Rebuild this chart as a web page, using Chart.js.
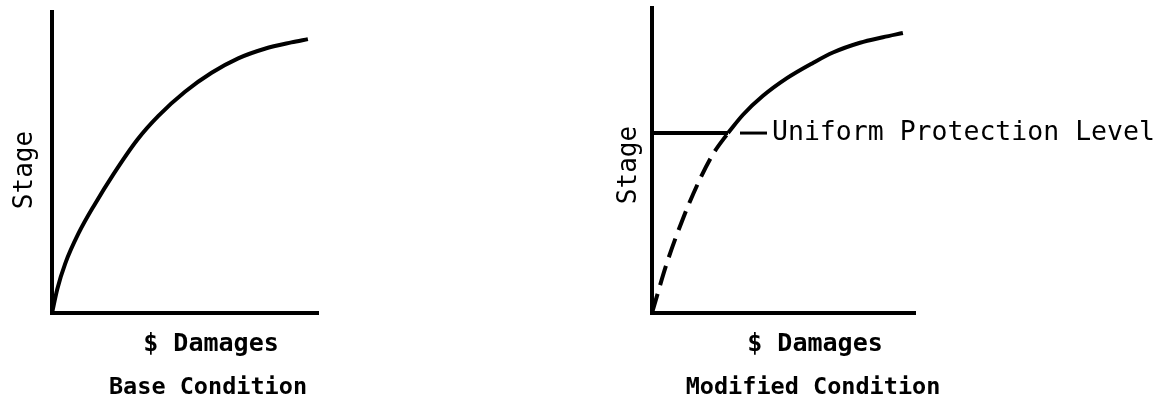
<!DOCTYPE html>
<html lang="en">

<head>
  <meta charset="UTF-8">
  <title>Stage vs Damages</title>
  <style>
    body { margin: 0; background: #fff; }
    .panel { position: absolute; top: 0; }
  </style>
</head>

<body>
  <div class="panel" style="left:0"><canvas id="baseChart" width="340" height="404"></canvas></div>
  <div class="panel" style="left:600px"><canvas id="modChart" width="558" height="404"></canvas></div>
</body>

<script src="https://cdn.jsdelivr.net/npm/chart.js"></script>
<script>
  // base condition stage-damage curve
  const baseDamages = [0, 2, 5, 10, 16, 23, 32, 40, 50, 60, 70, 80, 90, 96.2]
  const baseStage = [0, 8, 16.5, 26.5, 36, 46, 57.5, 65.5, 73.5, 79.8, 84.6, 87.8, 89.9, 91]

  // modified condition: below protection level (dashed), above it (solid)
  const modLowDamages = [0, 5.7, 11.8, 18.3, 23.5, 28.9]
  const modLowStage = [0, 16.5, 31, 44, 52.5, 59]
  const modHighDamages = [28.9, 34.6, 42.2, 51.3, 61.2, 68.8, 79.1, 87.8, 95.4]
  const modHighStage = [59, 65, 71.2, 77, 82, 85.4, 88.6, 90.4, 91.8]
  const protectionLevel = 59

  const toPoints = (xs, ys) => xs.map((x, i) => ({ x: x, y: ys[i] }))

  const mono = '"DejaVu Sans Mono", "Liberation Mono", monospace'

  // draws axis labels, captions and the level callout as canvas text
  const textPlugin = {
    id: 'texts',
    afterDraw(chart, args, opts) {
      const ctx = chart.ctx
      ctx.save()
      ctx.fillStyle = '#000'
      ctx.textBaseline = 'middle'
      ctx.textAlign = 'center'
      ctx.font = '26px ' + mono
      ctx.save()
      ctx.translate(opts.stageX, opts.stageY)
      ctx.rotate(-Math.PI / 2)
      ctx.fillText('Stage', 0, 0)
      ctx.restore()
      ctx.font = 'bold 25px ' + mono
      ctx.fillText('$ Damages', opts.xTitleX, 344)
      ctx.font = 'bold 23.5px ' + mono
      ctx.fillText(opts.caption, opts.captionX, 388)
      if (opts.level) {
        const xs = chart.scales.x, ys = chart.scales.y
        const px = xs.getPixelForValue(modLowDamages[modLowDamages.length - 1])
        const py = ys.getPixelForValue(protectionLevel)
        ctx.strokeStyle = '#000'
        ctx.lineWidth = 3
        ctx.beginPath()
        ctx.moveTo(px + 12, py)
        ctx.lineTo(px + 39, py)
        ctx.stroke()
        ctx.font = '26.5px ' + mono
        ctx.textAlign = 'left'
        ctx.fillText('Uniform Protection Level', px + 44, py)
      }
      ctx.restore()
    }
  }

  function lineSet(points, dash) {
    return {
      data: points,
      showLine: true,
      borderColor: '#000',
      borderWidth: 4,
      borderDash: dash || [],
      pointRadius: 0,
      cubicInterpolationMode: 'monotone',
      fill: false
    }
  }

  function axes() {
    return {
      x: {
        type: 'linear', min: 0, max: 100,
        grid: { display: false },
        ticks: { display: false },
        border: { color: '#000', width: 4 },
        afterFit: s => { s.height = 0 }
      },
      y: {
        type: 'linear', min: 0, max: 100,
        grid: { display: false },
        ticks: { display: false },
        border: { color: '#000', width: 4 },
        afterFit: s => { s.width = 0 }
      }
    }
  }

  new Chart(document.getElementById('baseChart'), {
    type: 'scatter',
    data: { datasets: [lineSet(toPoints(baseDamages, baseStage))] },
    options: {
      responsive: false,
      animation: false,
      devicePixelRatio: 1,
      layout: { padding: { left: 52, top: 12, right: 22, bottom: 91 } },
      scales: axes(),
      plugins: {
        legend: { display: false },
        tooltip: { enabled: false },
        texts: { stageX: 25, stageY: 170, xTitleX: 211, caption: 'Base Condition', captionX: 208 }
      }
    },
    plugins: [textPlugin]
  })

  new Chart(document.getElementById('modChart'), {
    type: 'scatter',
    data: {
      datasets: [
        lineSet(toPoints([0, modLowDamages[modLowDamages.length - 1]], [protectionLevel, protectionLevel])),
        lineSet(toPoints(modLowDamages, modLowStage), [20, 9]),
        lineSet(toPoints(modHighDamages, modHighStage))
      ]
    },
    options: {
      responsive: false,
      animation: false,
      devicePixelRatio: 1,
      layout: { padding: { left: 52, top: 8, right: 243, bottom: 91 } },
      scales: axes(),
      plugins: {
        legend: { display: false },
        tooltip: { enabled: false },
        texts: { stageX: 29, stageY: 165, xTitleX: 215, caption: 'Modified Condition', captionX: 213, level: true }
      }
    },
    plugins: [textPlugin]
  })
</script>

</html>
